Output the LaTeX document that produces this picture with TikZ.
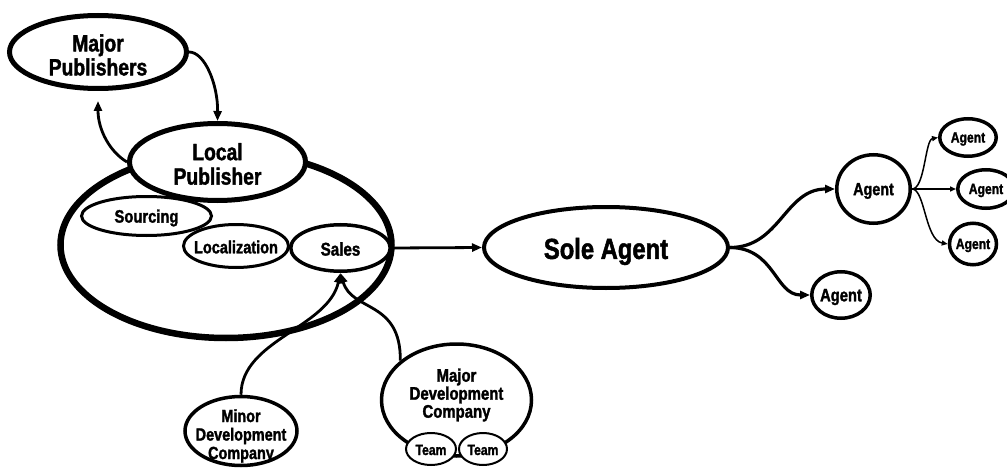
\documentclass[tikz,border=0pt]{standalone}
\usepackage{fontspec}
\setmainfont{Liberation Sans}[FakeStretch=0.82, BoldFeatures={FakeBold=1.6}]
\usetikzlibrary{shapes.geometric,arrows.meta}

% bold condensed text at a given size / baseline skip
\newcommand\bubfont[2]{\fontsize{#1}{#2}\selectfont\bfseries}

\tikzset{
  bub/.style={draw, ellipse, inner sep=0pt, fill=white},
  txt/.style={align=center, inner sep=0pt},
  arr/.style={line width=2.8pt, -{Triangle[length=10pt,width=8pt]}},
  thinarr/.style={line width=1.5pt, -{Triangle[length=6pt,width=5pt]}},
}

\begin{document}
\begin{tikzpicture}[x=1pt, y=-1pt]
  \clip (0,0) rectangle (1007,468);
  \useasboundingbox (0,0) rectangle (1007,468);

  % publishers
  \node[bub, line width=5pt, minimum width=177pt, minimum height=73pt,
        label={[txt, font=\bubfont{23.5}{24}, yshift=-3pt]center:{Major\\Publishers}}]
        (mp) at (98,52) {};
  \node[bub, line width=6.5pt, minimum width=331pt, minimum height=186pt]
        (house) at (226,245) {};
  \node[bub, line width=5pt, minimum width=176pt, minimum height=77pt,
        label={[txt, font=\bubfont{23.5}{24.5}, yshift=-2pt]center:{Local\\Publisher}}]
        (lp) at (217.5,162) {};

  % departments of the local publisher
  \node[bub, line width=3pt, minimum width=130pt, minimum height=39pt,
        label={[txt, font=\bubfont{18}{20}, yshift=-2pt]center:Sourcing}]
        (src) at (146.5,216) {};
  \node[bub, line width=3pt, minimum width=105pt, minimum height=43pt,
        label={[txt, font=\bubfont{17.7}{20}, yshift=-1pt]center:Localization}]
        (loc) at (236,246) {};
  \node[bub, line width=3.5pt, minimum width=99.5pt, minimum height=46.5pt,
        label={[txt, font=\bubfont{18.5}{20}, yshift=-1pt]center:Sales}]
        (sales) at (340.5,248) {};

  % distribution
  \node[bub, line width=4pt, minimum width=244pt, minimum height=81pt,
        label={[txt, font=\bubfont{29}{30}, yshift=-4pt]center:Sole Agent}]
        (sole) at (606,247.5) {};
  \node[bub, line width=3.5pt, minimum width=73.5pt, minimum height=68.5pt,
        label={[txt, font=\bubfont{17.5}{20}, yshift=-2pt]center:Agent}]
        (am) at (873.5,189) {};
  \node[bub, line width=3.5pt, minimum width=58.5pt, minimum height=46.5pt,
        label={[txt, font=\bubfont{18}{20}, yshift=-2pt]center:Agent}]
        (ab) at (841,295) {};
  \node[bub, line width=3.5pt, minimum width=56.5pt, minimum height=37.5pt,
        label={[txt, font=\bubfont{14.8}{16}, yshift=-1.5pt]center:Agent}]
        (a1) at (968,137.5) {};
  \node[bub, line width=3.5pt, minimum width=56.5pt, minimum height=38.5pt,
        label={[txt, font=\bubfont{14.8}{16}, yshift=-1.5pt]center:Agent}]
        (a2) at (986,189) {};
  \node[bub, line width=3.5pt, minimum width=47pt, minimum height=41.5pt,
        label={[txt, font=\bubfont{14.8}{16}, yshift=-1.5pt]center:Agent}]
        (a3) at (973,244) {};

  % developers
  \node[bub, line width=3.5pt, minimum width=112pt, minimum height=69pt,
        label={[txt, font=\bubfont{17.6}{18.5}, yshift=-5pt]center:{Minor\\Development\\Company}}]
        (minor) at (241,431) {};
  \node[bub, line width=3.5pt, minimum width=150pt, minimum height=112pt,
        label={[txt, font=\bubfont{18.2}{18}, yshift=5pt]center:{Major\\Development\\Company}}]
        (mdc) at (456.5,400) {};
  \node[bub, line width=2pt, minimum width=50pt, minimum height=32pt,
        label={[txt, font=\bubfont{14.8}{16}, yshift=-1pt]center:Team}]
        (t1) at (431,449) {};
  \node[bub, line width=2pt, minimum width=48pt, minimum height=32pt,
        label={[txt, font=\bubfont{14.8}{16}, yshift=-1pt]center:Team}]
        (t2) at (483,449) {};

  % connectors
  \draw[arr] (mp.east) .. controls (205,52) and (218,85) .. (lp.north);
  \draw[arr] (lp.west) .. controls (110,152) and (98,130) .. ([yshift=-10pt]mp.south);
  \draw[arr] (sales.east) -- (sole.west);
  \draw[arr] (minor.north) .. controls (241,340) and (328,328) .. (sales.south);
  \draw[arr] (mdc.145) .. controls (401,300) and (352,312) .. (sales.south);
  \draw[arr, line width=3.2pt] (sole.east) .. controls (780,247.5) and (785,189) .. (am.west);
  \draw[arr, line width=3.2pt] (sole.east) .. controls (775,248) and (775,295) .. (ab.west);
  \draw[thinarr] (am.east) .. controls (925,189) and (925,140) .. (a1.west);
  \draw[thinarr] (am.east) -- (a2.west);
  \draw[thinarr] (am.east) .. controls (925,189) and (925,240) .. (a3.west);
\end{tikzpicture}
\end{document}
